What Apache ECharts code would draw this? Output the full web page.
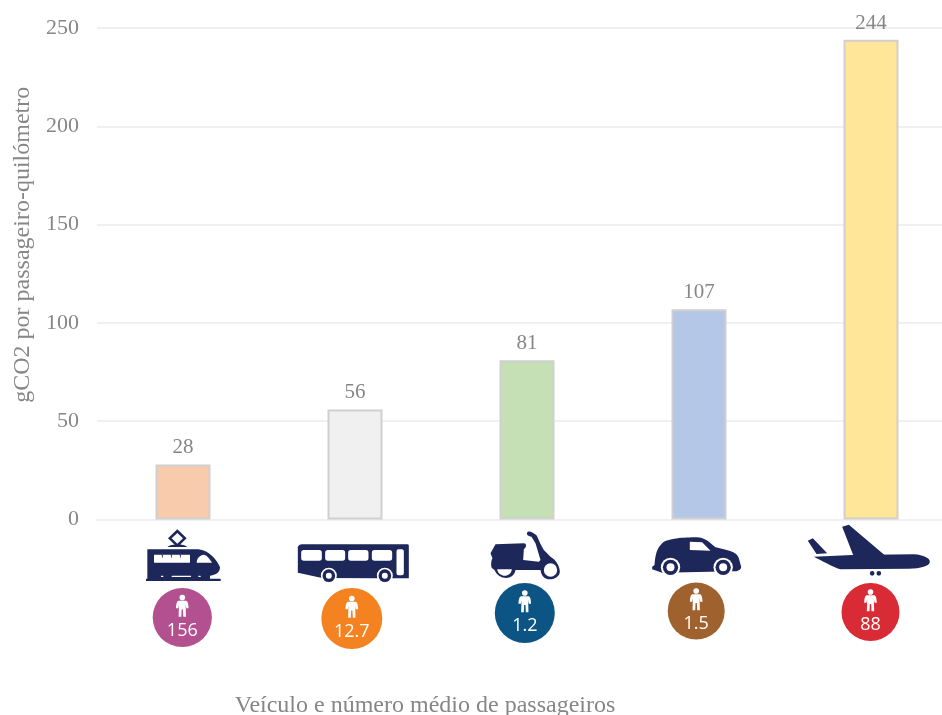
<!DOCTYPE html>
<html><head><meta charset="utf-8">
<style>html,body{margin:0;padding:0;background:#fff;overflow:hidden}#c{width:942px;height:715px}</style>
<script src="https://cdn.jsdelivr.net/npm/echarts@6/dist/echarts.min.js"></script>
</head><body><div id="c"></div>
<script>
const categories = ['Comboio', 'Autocarro', 'Motociclo', 'Automóvel', 'Avião'];
const emissions = [28, 56, 81, 107, 244];
const passengers = ['156', '12.7', '1.2', '1.5', '88'];
const yTicks = [0, 50, 100, 150, 200, 250];
const barColors = ['#F8CBAD', '#F0F0F0', '#C5E0B4', '#B4C7E7', '#FFE699'];
const badgeColors = ['#B25090', '#F58220', '#0B5484', '#9F622F', '#D92B35'];

const NAVY = '#1D2759', GREY = '#868686';
const circ = (cx, cy, r) => `M${cx - r} ${cy}A${r} ${r} 0 1 0 ${cx + r} ${cy}A${r} ${r} 0 1 0 ${cx - r} ${cy}Z`;
const rr = (x, y, w, h, r) => `M${x + r} ${y}L${x + w - r} ${y}Q${x + w} ${y} ${x + w} ${y + r}L${x + w} ${y + h - r}Q${x + w} ${y + h} ${x + w - r} ${y + h}L${x + r} ${y + h}Q${x} ${y + h} ${x} ${y + h - r}L${x} ${y + r}Q${x} ${y} ${x + r} ${y}Z`;
const wheel = (cx, cy, a, b, c) => [['#fff', circ(cx, cy, a)], [NAVY, circ(cx, cy, b)], ['#fff', circ(cx, cy, c)]];

// Pictograms, traced at 3 units per pixel; ox/oy place the 900x450 frame relative to the bar base.
const icons = [
  { ox: -53, oy: -9.5, layers: [
    [NAVY, 'M52 118L205 118C235 120 262 150 270 172C270 185 262 195 240 197L240 206L272 206L272 213L48 213L48 206L52 206Z' + 'M112 111C125 100 160 100 172 111Z' + 'M142 58L170 85L142 112L114 85Z'],
    ['#fff', 'M142 69L159 85L142 101L125 85Z' + rr(72, 134, 108, 24, 1) + 'M200 158C200 145 210 134 222 134C232 136 240 148 246 158Z' + rr(93, 197, 7, 4, 1) + rr(125, 197, 58, 4, 1) + rr(205, 197, 7, 4, 1)],
    [NAVY, 'M95 134L99 134L97 146Z M122 134L126 134L124 146Z M149 134L153 134L151 146Z'],
  ]},
  { ox: -224.5, oy: -9.5, layers: [
    [NAVY, 'M502 112C503 106 508 103 515 103L830 103C834 103 835 105 835 108L835 205L750 205L575 204L502 188Z'],
    ['#fff', rr(512, 120, 62, 32, 8) + rr(584, 120, 60, 32, 8) + rr(653, 120, 61, 32, 8) + rr(724, 120, 61, 32, 8) + rr(798, 118, 22, 78, 6)],
    ...wheel(595, 197, 24, 19, 9), ...wheel(763, 197, 24, 19, 9),
  ]},
  { ox: -56.5, oy: -9.5, layers: [
    [NAVY, 'M75 103L160 100C168 100 170 110 160 118L158 150L205 155L210 150L195 100L183 80C172 78 165 72 172 65C178 62 190 68 198 76C203 85 208 100 220 120L240 140C258 150 268 170 268 185C268 200 250 208 238 208C220 208 212 195 210 180L135 180C130 212 85 212 72 180L65 175C60 170 62 150 66 145L60 130Z'],
    ['#fff', circ(240, 180, 20) + 'M80 178L124 178C122 204 84 204 80 178Z'],
  ]},
  { ox: -228.5, oy: -9.5, layers: [
    [NAVY, 'M575 100C590 85 640 82 680 82C700 82 715 95 735 112C770 120 800 125 805 145L812 170C812 180 800 184 790 184L575 188L545 178L545 170L552 165C555 130 560 115 575 100Z'],
    ['#fff', 'M658 95L695 97L720 122L658 120Z'],
    ...wheel(600, 172, 29, 23, 12), ...wheel(758, 172, 29, 23, 12),
  ]},
  { ox: -90.5, oy: -9.5, layers: [
    [NAVY, 'M82 92L97 85L140 130L108 132Z' + 'M185 50L205 44L312 135L218 135Z' + 'M100 140L215 135L400 133C430 135 448 145 448 155C448 168 420 175 385 176L180 178C160 172 120 150 100 140Z' + circ(275, 190, 7) + circ(295, 190, 7)],
  ]},
];
const FRAME = 'M0 0L0 0M900 450L900 450';
const PERSON = circ(0, -60, 8.5) + 'M-10 -50L10 -50C16 -50 18 -44 19 -28L12 -28L10 -40L11 -2L3 -2L2 -24L-2 -24L-3 -2L-11 -2L-10 -40L-12 -28L-19 -28C-18 -44 -16 -50 -10 -50Z';
const PERSON_FRAME = 'M-100 -100L-100 -100M100 100L100 100';
const badges = [
  { dx: -0.7, dy: 98, r: 29.6 }, { dx: -3.2, dy: 99, r: 30.5 }, { dx: -2.2, dy: 93.5, r: 30 },
  { dx: -2.8, dy: 91.5, r: 28.5 }, { dx: -0.5, dy: 92.5, r: 29 },
];

function renderIcon(params, api) {
  const i = api.value(0);
  const p = api.coord([i, 0]);
  const b = badges[i], ic = icons[i];
  const children = ic.layers.map(l => ({
    type: 'path',
    shape: { pathData: FRAME + l[1], x: ic.ox, y: ic.oy, width: 300, height: 150, layout: 'cover' },
    style: { fill: l[0] },
  }));
  children.push({ type: 'circle', shape: { cx: b.dx, cy: b.dy, r: b.r }, style: { fill: badgeColors[i] } });
  children.push({
    type: 'path',
    shape: { pathData: PERSON_FRAME + PERSON, x: b.dx - 33.333, y: b.dy - 33.333, width: 66.667, height: 66.667, layout: 'cover' },
    style: { fill: '#fff' },
  });
  children.push({
    type: 'text',
    style: { text: passengers[i], x: b.dx, y: b.dy + 13, fill: '#fff', fontFamily: '"Open Sans"', fontSize: 18, align: 'center', verticalAlign: 'middle' },
  });
  return { type: 'group', x: p[0], y: p[1], children };
}

const chart = echarts.init(document.getElementById('c'), null, { renderer: 'canvas' });
chart.setOption({
  animation: false,
  backgroundColor: '#fff',
  textStyle: { fontFamily: '"Liberation Serif"' },
  grid: { left: 97, right: -15, top: 28, bottom: 195.5, containLabel: false, outerBoundsMode: 'none' },
  xAxis: {
    type: 'category',
    data: categories,
    name: 'Veículo e número médio de passageiros',
    nameLocation: 'middle',
    nameGap: 174,
    nameTextStyle: { color: GREY, fontSize: 24, fontFamily: '"Liberation Serif"', padding: [0, 204, 0, 0] },
    axisLine: { show: true, lineStyle: { color: '#F0F0F0', width: 2 } },
    axisTick: { show: false },
    axisLabel: { show: false },
  },
  yAxis: {
    type: 'value',
    min: yTicks[0],
    max: yTicks[yTicks.length - 1],
    interval: yTicks[1] - yTicks[0],
    name: 'gCO2 por passageiro-quilómetro',
    nameLocation: 'middle',
    nameGap: 61,
    nameTextStyle: { color: GREY, fontSize: 24, fontFamily: '"Liberation Serif"', padding: [0, 0, 0, 58] },
    axisLine: { show: false },
    axisTick: { show: false },
    axisLabel: { color: GREY, fontSize: 22, fontFamily: '"Liberation Serif"', margin: 18 },
    splitLine: { lineStyle: { color: '#F0F0F0', width: 2 } },
  },
  series: [
    {
      type: 'bar',
      barWidth: 55,
      data: emissions.map((v, i) => ({ value: v, itemStyle: { color: barColors[i], borderColor: '#D0D0D0', borderWidth: 2 } })),
      label: { show: true, position: 'top', distance: 6, color: GREY, fontSize: 21, fontFamily: '"Liberation Serif"' },
    },
    {
      type: 'custom',
      clip: false,
      silent: true,
      z: 5,
      data: categories.map((c, i) => [i, 0]),
      encode: { x: 0, y: 1 },
      renderItem: renderIcon,
    },
  ],
});
</script></body></html>
